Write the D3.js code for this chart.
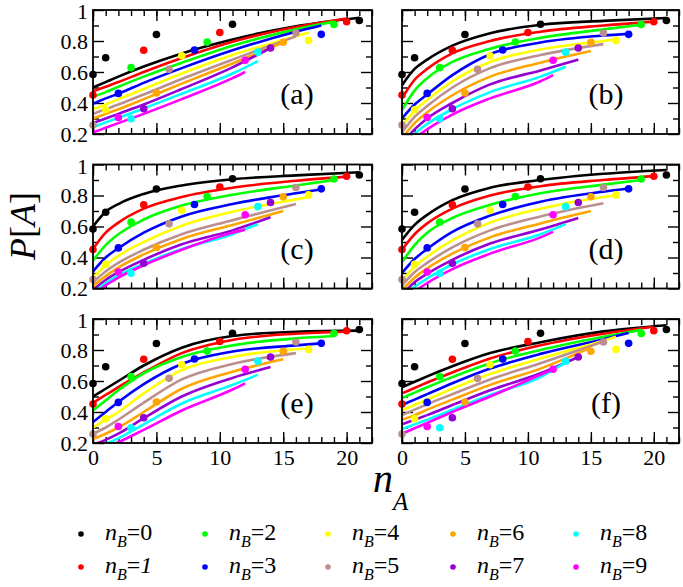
<!DOCTYPE html>
<html>
<head>
<meta charset="utf-8">
<script src="https://cdn.jsdelivr.net/npm/d3@7"></script>
<style>
  body { margin: 0; background: #fff; }
  svg { display: block; }
</style>
</head>
<body>
<svg id="chart"></svg>
<script>
// series n_B = 0..9
const nB = [0, 1, 2, 3, 4, 5, 6, 7, 8, 9]
const colors = ["#000000", "#ff0000", "#00ff00", "#0000ff", "#ffff00",
                "#bc8f8f", "#ffa500", "#9400d3", "#00ffff", "#ff00ff"]

// measured points (same in every panel)
const ptX = [[0, 1, 5, 11, 21], [0, 4, 10, 20], [3, 9, 19], [2, 8, 18], [1, 7, 17],
             [0, 6, 16], [5, 15], [4, 14], [3, 13], [2, 12]]
const ptY = [[0.584, 0.692, 0.842, 0.908, 0.932], [0.452, 0.74, 0.855, 0.924],
             [0.628, 0.793, 0.906], [0.462, 0.742, 0.843], [0.356, 0.705, 0.804],
             [0.258, 0.617, 0.852], [0.465, 0.792], [0.363, 0.755], [0.298, 0.728],
             [0.306, 0.676]]

// model curves, read at n_A = 0,1,2,4,7,11,16 and at the curve's last n_A
const curveKnots = [0, 1, 2, 4, 7, 11, 16]
const curveEnd = [21, 20, 19, 18, 17, 16, 15, 14, 13, 12]

const fitA = [
  [0.50, 0.535, 0.57, 0.635, 0.72, 0.81, 0.895, 0.95],
  [0.475, 0.505, 0.535, 0.60, 0.69, 0.795, 0.89, 0.945],
  [0.44, 0.47, 0.505, 0.57, 0.66, 0.77, 0.875, 0.925],
  [0.395, 0.43, 0.46, 0.53, 0.625, 0.74, 0.86, 0.90],
  [0.36, 0.39, 0.425, 0.49, 0.59, 0.71, 0.83, 0.855],
  [0.33, 0.36, 0.39, 0.455, 0.555, 0.68, 0.83],
  [0.30, 0.33, 0.36, 0.425, 0.525, 0.655, 0.79],
  [0.27, 0.30, 0.33, 0.39, 0.49, 0.63, 0.755],
  [0.245, 0.275, 0.305, 0.365, 0.46, 0.59, 0.67],
  [0.21, 0.24, 0.27, 0.33, 0.425, 0.56, 0.60]
]
const fitB = [
  [0.515, 0.62, 0.68, 0.77, 0.85, 0.905, 0.93, 0.948],
  [0.43, 0.55, 0.62, 0.72, 0.80, 0.86, 0.90, 0.925],
  [0.355, 0.48, 0.56, 0.665, 0.75, 0.82, 0.875, 0.905],
  [0.30, 0.39, 0.455, 0.58, 0.715, 0.79, 0.835, 0.846],
  [0.25, 0.35, 0.42, 0.54, 0.665, 0.745, 0.80, 0.81],
  [0.21, 0.31, 0.38, 0.50, 0.625, 0.71, 0.78],
  [0.17, 0.27, 0.34, 0.45, 0.57, 0.66, 0.735],
  [0.14, 0.23, 0.30, 0.40, 0.52, 0.61, 0.68],
  [0.11, 0.20, 0.265, 0.36, 0.47, 0.57, 0.634],
  [0.08, 0.17, 0.23, 0.325, 0.43, 0.54, 0.58]
]
const fitC = [
  [0.60, 0.695, 0.745, 0.81, 0.865, 0.905, 0.93, 0.95],
  [0.455, 0.56, 0.625, 0.715, 0.79, 0.85, 0.895, 0.922],
  [0.38, 0.48, 0.55, 0.645, 0.735, 0.805, 0.865, 0.90],
  [0.31, 0.40, 0.46, 0.56, 0.665, 0.745, 0.815, 0.84],
  [0.27, 0.35, 0.41, 0.50, 0.605, 0.695, 0.775, 0.79],
  [0.24, 0.31, 0.365, 0.45, 0.55, 0.64, 0.745],
  [0.215, 0.28, 0.335, 0.42, 0.52, 0.61, 0.70],
  [0.19, 0.255, 0.305, 0.385, 0.485, 0.575, 0.66],
  [0.17, 0.235, 0.285, 0.36, 0.455, 0.55, 0.615],
  [0.15, 0.22, 0.27, 0.35, 0.45, 0.56, 0.58]
]
const fitD = [
  [0.513, 0.61, 0.675, 0.77, 0.85, 0.90, 0.94, 0.965],
  [0.45, 0.55, 0.62, 0.715, 0.80, 0.86, 0.90, 0.925],
  [0.37, 0.48, 0.56, 0.655, 0.74, 0.815, 0.87, 0.90],
  [0.30, 0.39, 0.455, 0.565, 0.67, 0.76, 0.825, 0.845],
  [0.25, 0.34, 0.405, 0.51, 0.625, 0.715, 0.79, 0.80],
  [0.22, 0.305, 0.365, 0.465, 0.575, 0.665, 0.75],
  [0.19, 0.27, 0.33, 0.425, 0.53, 0.62, 0.70],
  [0.16, 0.24, 0.295, 0.385, 0.49, 0.58, 0.655],
  [0.13, 0.21, 0.265, 0.355, 0.455, 0.55, 0.615],
  [0.10, 0.18, 0.235, 0.325, 0.425, 0.53, 0.565]
]
const fitE = [
  [0.50, 0.55, 0.60, 0.70, 0.815, 0.89, 0.918, 0.925],
  [0.46, 0.51, 0.56, 0.655, 0.78, 0.865, 0.905, 0.918],
  [0.41, 0.475, 0.54, 0.65, 0.755, 0.83, 0.875, 0.89],
  [0.335, 0.40, 0.465, 0.58, 0.71, 0.79, 0.83, 0.843],
  [0.30, 0.35, 0.40, 0.52, 0.67, 0.755, 0.805, 0.81],
  [0.26, 0.30, 0.35, 0.46, 0.61, 0.71, 0.78],
  [0.225, 0.26, 0.30, 0.40, 0.55, 0.66, 0.74],
  [0.19, 0.22, 0.26, 0.36, 0.50, 0.62, 0.69],
  [0.165, 0.195, 0.23, 0.32, 0.455, 0.575, 0.64],
  [0.14, 0.17, 0.205, 0.285, 0.41, 0.545, 0.585]
]
const fitF = [
  [0.56, 0.595, 0.63, 0.695, 0.78, 0.85, 0.92, 0.96],
  [0.52, 0.555, 0.59, 0.655, 0.745, 0.83, 0.905, 0.95],
  [0.49, 0.525, 0.56, 0.625, 0.715, 0.80, 0.885, 0.93],
  [0.445, 0.48, 0.515, 0.585, 0.68, 0.775, 0.87, 0.91],
  [0.41, 0.445, 0.48, 0.55, 0.645, 0.745, 0.86, 0.885],
  [0.38, 0.415, 0.45, 0.515, 0.61, 0.715, 0.855],
  [0.35, 0.38, 0.415, 0.48, 0.575, 0.68, 0.815],
  [0.32, 0.35, 0.38, 0.445, 0.54, 0.65, 0.755],
  [0.29, 0.32, 0.35, 0.415, 0.51, 0.625, 0.72],
  [0.26, 0.295, 0.33, 0.40, 0.50, 0.64, 0.675]
]
const panelNames = ["(a)", "(b)", "(c)", "(d)", "(e)", "(f)"]
const panelFits = [fitA, fitB, fitC, fitD, fitE, fitF]

const xTicks = [0, 5, 10, 15, 20]
const yTicks = [0.2, 0.4, 0.6, 0.8, 1]

const font = '"Liberation Serif", "Liberation Sans", Arimo, Arial, sans-serif'
const width = 683, height = 587
const cols = [{ x0: 93, x1: 372 }, { x0: 402, x1: 679 }]
const rows = [{ y0: 10, y1: 134 }, { y0: 164.5, y1: 288.5 }, { y0: 319, y1: 443 }]

const svg = d3.select("#chart").attr("width", width).attr("height", height)
  .attr("font-family", font)
svg.append("rect").attr("width", width).attr("height", height).attr("fill", "#fff")

panelFits.forEach((fits, p) => {
  const col = cols[p % 2], row = rows[Math.floor(p / 2)]
  const x = d3.scaleLinear().domain([0, 22]).range([col.x0, col.x1])
  const y = d3.scaleLinear().domain([0.2, 1]).range([row.y1, row.y0])
  const g = svg.append("g")

  const clipId = "clip" + p
  g.append("clipPath").attr("id", clipId)
    .append("rect")
    .attr("x", col.x0).attr("y", row.y0)
    .attr("width", col.x1 - col.x0).attr("height", row.y1 - row.y0)

  // axes: major + minor ticks on all four sides, pointing in
  const bottomRow = p >= 4, leftCol = p % 2 === 0
  const addAxis = (axis, tr, labels) => {
    const a = g.append("g").attr("transform", tr).call(axis)
      .attr("font-family", font).attr("font-size", 22)
    a.select(".domain").remove()
    a.selectAll("line").attr("stroke-width", 1.4)
    a.selectAll("text").attr("fill", "#000")
    if (!labels) a.selectAll("text").remove()
    return a
  }
  const minorX = d3.range(0, 23)
  const minorY = d3.range(0.3, 1, 0.2).map((d) => +d.toFixed(1))

  addAxis(d3.axisBottom(x).tickValues(xTicks).tickSize(-11).tickPadding(6).tickFormat(d3.format("d")),
    `translate(0,${row.y1})`, bottomRow)
  addAxis(d3.axisBottom(x).tickValues(minorX).tickSize(-6).tickFormat(""), `translate(0,${row.y1})`, false)
  addAxis(d3.axisTop(x).tickValues(xTicks).tickSize(-11), `translate(0,${row.y0})`, false)
  addAxis(d3.axisTop(x).tickValues(minorX).tickSize(-6), `translate(0,${row.y0})`, false)

  const yAx = addAxis(d3.axisLeft(y).tickValues(yTicks).tickSize(-11).tickPadding(5).tickFormat(d3.format("~g")),
    `translate(${col.x0},0)`, leftCol)
  // keep the top label "1" inside the picture
  yAx.selectAll("text").filter((d) => d === 1).attr("dy", "0.40em")
  addAxis(d3.axisLeft(y).tickValues(minorY).tickSize(-6), `translate(${col.x0},0)`, false)
  addAxis(d3.axisRight(y).tickValues(yTicks).tickSize(-11), `translate(${col.x1},0)`, false)
  addAxis(d3.axisRight(y).tickValues(minorY).tickSize(-6), `translate(${col.x1},0)`, false)

  // model curves
  const line = d3.line().x((d) => x(d[0])).y((d) => y(d[1])).curve(d3.curveMonotoneX)
  const curves = fits.map((vals, k) => {
    const xs = curveKnots.filter((v) => v < curveEnd[k]).concat(curveEnd[k])
    return xs.map((v, i) => [v, vals[i]])
  })
  g.append("g").attr("clip-path", `url(#${clipId})`)
    .selectAll("path")
    .data(curves)
    .join("path")
    .attr("d", line)
    .attr("fill", "none")
    .attr("stroke", (d, k) => colors[k])
    .attr("stroke-width", 2.6)

  // points
  const pts = nB.flatMap((k) => ptX[k].map((v, i) => ({ k, x: v, y: ptY[k][i] })))
  g.append("g")
    .selectAll("circle")
    .data(pts)
    .join("circle")
    .attr("cx", (d) => x(d.x))
    .attr("cy", (d) => y(d.y))
    .attr("r", 3.8)
    .attr("fill", (d) => colors[d.k])

  // frame
  g.append("rect")
    .attr("x", col.x0).attr("y", row.y0)
    .attr("width", col.x1 - col.x0).attr("height", row.y1 - row.y0)
    .attr("fill", "none").attr("stroke", "#000").attr("stroke-width", 1.8)

  g.append("text")
    .attr("x", col.x0 + 204).attr("y", row.y0 + 94)
    .attr("text-anchor", "middle").attr("font-size", 30)
    .text(panelNames[p])
})

// axis titles
const yTitle = svg.append("text")
  .attr("transform", "translate(35,226) rotate(-90)")
  .attr("text-anchor", "middle").attr("font-size", 36)
yTitle.append("tspan").attr("font-style", "italic").text("P")
yTitle.append("tspan").text("[")
yTitle.append("tspan").attr("font-style", "italic").text("A")
yTitle.append("tspan").text("]")

const xTitle = svg.append("text").attr("x", 373).attr("y", 492).attr("font-size", 40)
xTitle.append("tspan").attr("font-style", "italic").text("n")
xTitle.append("tspan").attr("font-style", "italic").attr("font-size", 25).attr("dy", 18).text("A")

// legend
const legX = [81, 205, 328, 453, 576]
const legY = [534, 567]
const leg = svg.append("g")
nB.forEach((k) => {
  const cx = legX[Math.floor(k / 2)], cy = legY[k % 2]
  leg.append("circle").attr("cx", cx).attr("cy", cy).attr("r", 2.8).attr("fill", colors[k])
  const t = leg.append("text").attr("x", cx + 24).attr("y", cy + 6).attr("font-size", 24)
  t.append("tspan").attr("font-style", "italic").text("n")
  t.append("tspan").attr("font-style", "italic").attr("font-size", 16).attr("dy", 7).text("B")
  t.append("tspan").attr("dy", -7).text("=")
  t.append("tspan").attr("font-style", k === 1 ? "italic" : "normal").text(k)
})
</script>
</body>
</html>
